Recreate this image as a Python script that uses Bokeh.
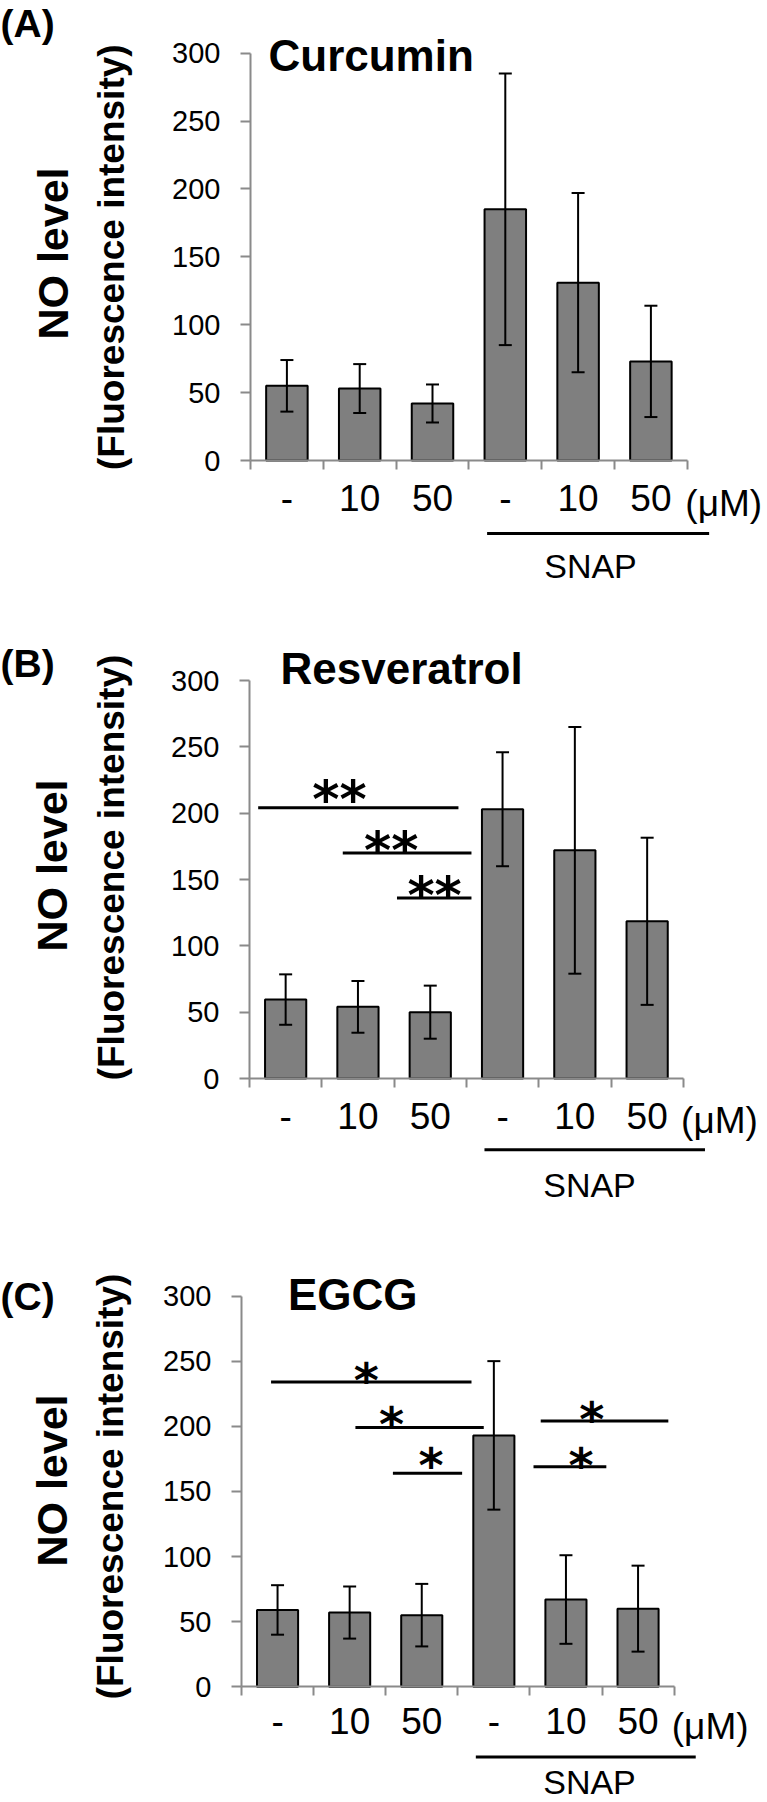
import numpy as np
from bokeh.plotting import figure
from bokeh.models import (Range1d, LinearAxis, FixedTicker, ColumnDataSource,
                          Whisker, TeeHead)
from bokeh.layouts import column
from bokeh.core.properties import value
from bokeh.embed import file_html
from bokeh.resources import INLINE

# ---------------- data ----------------
categories = ["-", "10", "50", "-", "10", "50"]
unit_label = "(μM)"
group_label = "SNAP"
y_ticks = [0, 50, 100, 150, 200, 250, 300]
y_title_1 = "NO level"
y_title_2 = "(Fluorescence intensity)"

curcumin_mean = [55, 53, 42, 185, 131, 73]
curcumin_err = [19, 18, 14, 100, 66, 41]

resveratrol_mean = [59.5, 54, 50, 203, 172, 118.5]
resveratrol_err = [19, 19.5, 20, 43, 93, 63]

egcg_mean = [59, 57, 55, 193, 67, 60]
egcg_err = [19, 20, 24, 57, 34, 33]

# significance bars (category-axis units) and their marks
resv_sig_x0 = [0.12, 1.29, 2.04]
resv_sig_x1 = [2.89, 3.07, 3.07]
resv_sig_y = [204, 170, 136]
resv_sig_text = ["**", "**", "**"]
resv_star_x = [1.245, 1.96, 2.56]
resv_star_y = [220, 181, 147]

egcg_sig_x0 = [0.41, 1.58, 2.10, 4.15, 4.05]
egcg_sig_x1 = [3.19, 3.36, 3.06, 5.92, 5.06]
egcg_sig_y = [234, 199, 164, 204, 169]
egcg_sig_text = ["*", "*", "*", "*", "*"]
egcg_star_x = [1.73, 2.08, 2.63, 4.86, 4.71]
egcg_star_y = [244, 210, 179, 214, 179]

snap_span = (3.25, 6.3)

# ---------------- layout (page pixel anchors) ----------------
W = 767
FONT = "Liberation Sans"
NARROW = "'Liberation Sans Narrow', 'Arial Narrow', 'Liberation Sans', sans-serif"
AXIS_GREY = "#8a8a8a"


def make_panel(letter, title, means, errs, geom, sig=None, star_size=50):
    ax_x, ux, ax_y, uy, top, H = geom["frame"]
    dx = lambda rx: (rx - ax_x) / ux
    dy = lambda ry: (ax_y - ry) / uy

    p = figure(width=W, height=H,
               x_range=Range1d(dx(0), dx(W)),
               y_range=Range1d(dy(top + H), dy(top)),
               x_axis_type=None, y_axis_type=None,
               output_backend="svg", toolbar_location=None,
               min_border=0)
    p.outline_line_color = None
    p.xgrid.visible = False
    p.ygrid.visible = False
    p.background_fill_color = "white"

    n = len(categories)
    centers = [i + 0.5 for i in range(n)]
    src = ColumnDataSource(dict(
        x=centers, top=means,
        upper=[m + e for m, e in zip(means, errs)],
        lower=[m - e for m, e in zip(means, errs)]))

    p.vbar(x="x", top="top", bottom=0, width=0.57, source=src,
           fill_color="#7f7f7f", line_color="black", line_width=2)
    p.add_layout(Whisker(source=src, base="x", upper="upper", lower="lower",
                         level="annotation",
                         line_color="black", line_width=2,
                         upper_head=TeeHead(size=13, line_width=2, line_color="black"),
                         lower_head=TeeHead(size=13, line_width=2, line_color="black")))

    # axes
    xaxis = LinearAxis(fixed_location=0, bounds=(0, n),
                       ticker=FixedTicker(ticks=centers, minor_ticks=list(range(n + 1))),
                       major_label_overrides={c: lab for c, lab in zip(centers, categories)},
                       axis_line_color=AXIS_GREY, axis_line_width=2,
                       major_tick_out=0, major_tick_in=0,
                       minor_tick_out=9, minor_tick_in=0,
                       minor_tick_line_color=AXIS_GREY, minor_tick_line_width=2,
                       major_label_text_font=NARROW,
                       major_label_text_font_size="37px",
                       major_label_text_color="black",
                       major_label_standoff=geom["xstandoff"])
    p.add_layout(xaxis, "below")
    yaxis = LinearAxis(fixed_location=0, bounds=(0, 300),
                       ticker=FixedTicker(ticks=y_ticks, minor_ticks=[]),
                       axis_line_color=AXIS_GREY, axis_line_width=2,
                       major_tick_out=10, major_tick_in=0,
                       major_tick_line_color=AXIS_GREY, major_tick_line_width=2,
                       major_label_text_font=FONT,
                       major_label_text_font_size="29px",
                       major_label_text_color="black",
                       major_label_standoff=20)
    p.add_layout(yaxis, "left")

    # significance brackets
    if sig is not None:
        x0s, x1s, ys, texts, sx, sy = sig
        p.segment(x0=x0s, y0=ys, x1=x1s, y1=ys, line_color="black", line_width=3)
        # DejaVu asterisk sits ~0.23em above the text's middle line
        p.text(x=sx, y=[v - 0.23 * star_size / uy for v in sy], text=texts,
               text_font=value("DejaVu Sans"), text_font_style="bold",
               text_font_size=f"{star_size}px",
               text_align="center", text_baseline="middle", text_color="black")

    # unit label and SNAP group
    p.text(x=[n + 0.5], y=[dy(geom["unit_mid"])], text=[unit_label],
           text_font=value(NARROW), text_font_size="37px",
           text_align="center", text_baseline="middle", text_color="black")
    p.segment(x0=[snap_span[0]], y0=[dy(geom["snap_line"])],
              x1=[snap_span[1]], y1=[dy(geom["snap_line"])],
              line_color="black", line_width=3)
    p.text(x=[dx(geom["snap_text"][0])], y=[dy(geom["snap_text"][1])], text=[group_label],
           text_font=value(FONT), text_font_size="34px",
           text_align="center", text_baseline="middle", text_color="black")

    # panel letter and title
    p.text(x=[dx(0)], y=[dy(geom["letter_mid"])], text=[letter],
           text_font=value(FONT), text_font_style="bold", text_font_size="39px",
           text_align="left", text_baseline="middle", text_color="black")
    p.text(x=[dx(geom["title"][0])], y=[dy(geom["title"][1])], text=[title],
           text_font=value(FONT), text_font_style="bold", text_font_size="44px",
           text_align="left", text_baseline="middle", text_color="black")

    # y-axis titles (rotated)
    p.text(x=[dx(geom["yt1"][0])], y=[dy(geom["yt1"][1])], text=[y_title_1],
           angle=np.pi / 2, text_font=value(FONT), text_font_style="bold",
           text_font_size="43px", text_align="center", text_baseline="middle",
           text_color="black")
    p.text(x=[dx(geom["yt2"][0])], y=[dy(geom["yt2"][1])], text=[y_title_2],
           angle=np.pi / 2, text_font=value(FONT), text_font_style="bold",
           text_font_size="37px", text_align="center", text_baseline="middle",
           text_color="black")
    return p


geomA = dict(frame=(250, 72.8, 460, 407.3 / 300, 0, 600), xstandoff=15,
             unit_mid=502.5, snap_line=533, snap_text=(590, 565),
             letter_mid=23, title=(268, 55), yt1=(52.5, 253), yt2=(111, 256.7))
geomB = dict(frame=(249, 72.3, 1078, 398 / 300, 600, 605), xstandoff=15,
             unit_mid=1120, snap_line=1149.3, snap_text=(589, 1184),
             letter_mid=663, title=(280, 668), yt1=(51, 865), yt2=(111, 867))
geomC = dict(frame=(241, 72.1, 1686.3, 390.8 / 300, 1205, 597), xstandoff=12,
             unit_mid=1726, snap_line=1756.5, snap_text=(589, 1781),
             letter_mid=1296, title=(287.5, 1294), yt1=(51, 1480), yt2=(110, 1486))

pA = make_panel("(A)", "Curcumin", curcumin_mean, curcumin_err, geomA)
pB = make_panel("(B)", "Resveratrol", resveratrol_mean, resveratrol_err, geomB,
                sig=(resv_sig_x0, resv_sig_x1, resv_sig_y, resv_sig_text,
                     resv_star_x, resv_star_y), star_size=52)
pC = make_panel("(C)", "EGCG", egcg_mean, egcg_err, geomC,
                sig=(egcg_sig_x0, egcg_sig_x1, egcg_sig_y, egcg_sig_text,
                     egcg_star_x, egcg_star_y), star_size=48)

layout = column(pA, pB, pC, spacing=0)
open("out.html", "w").write(file_html(layout, INLINE))
